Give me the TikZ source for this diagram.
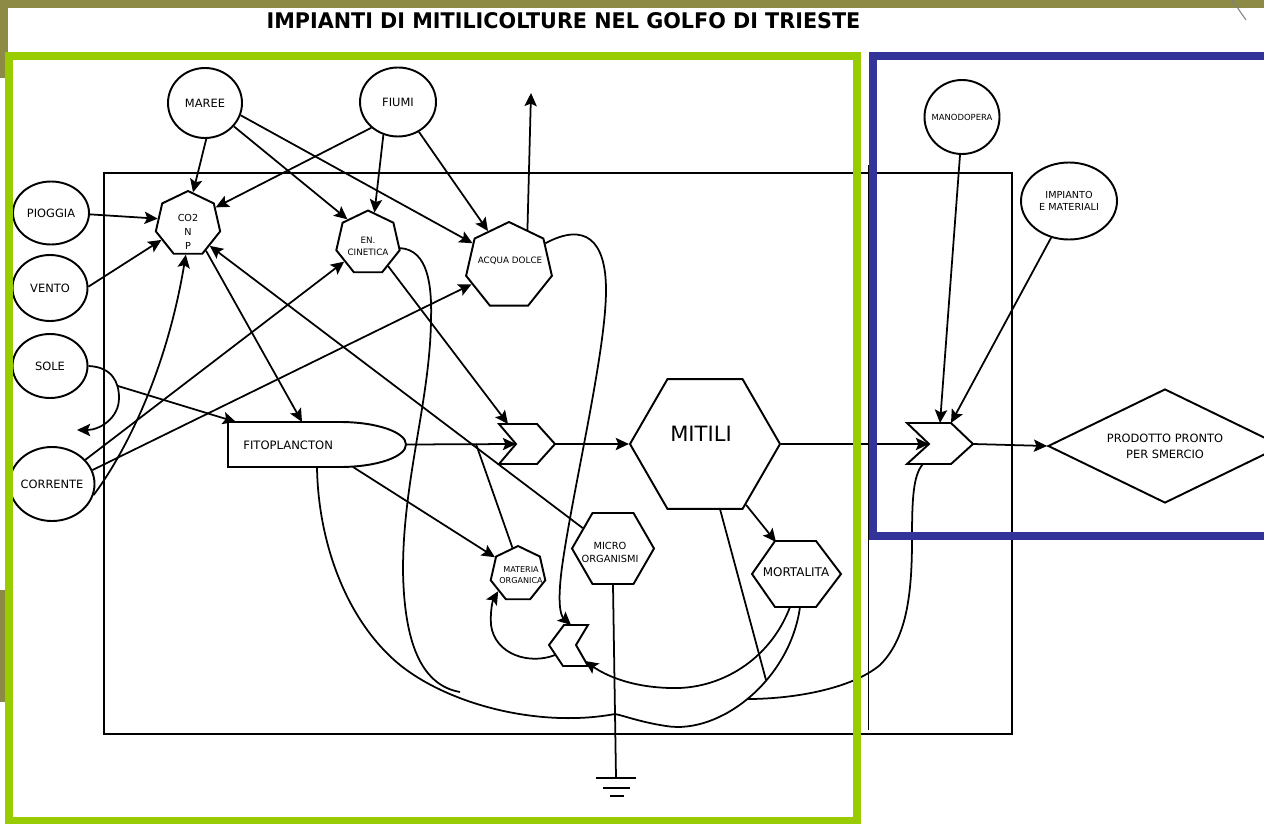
\documentclass[tikz,border=0pt]{standalone}
\usepackage{fontspec}
\usepackage{graphicx}
\setmainfont{DejaVu Sans}
\newfontfamily\titlefont{DejaVu Sans}
\usetikzlibrary{shapes.geometric,arrows.meta,calc}
\definecolor{olivebar}{RGB}{140,138,69}
\definecolor{greenbar}{RGB}{153,204,0}
\definecolor{bluebar}{RGB}{51,51,153}
\newcommand\px{0.02cm}
\tikzset{
  ln/.style={line width=1pt,draw=black},
  arr/.style={ln,-{Stealth[length=7.5pt,width=7pt,inset=1.5pt]}},
  shp/.style={draw=black,line width=1.1pt,inner sep=0pt},
  ell/.style={shp,ellipse,font=\fontsize{6.5}{8}\selectfont},
  hep/.style={shp,regular polygon,regular polygon sides=7},
  hexa/.style={shp,regular polygon,regular polygon sides=6},
  txt/.style={align=center,inner sep=0pt},
  gndbar/.style={line width=1.1pt},
}
\begin{document}
\begin{tikzpicture}[x=\px,y=-\px]
\useasboundingbox (0,0) rectangle (1264,824);
\fill[white] (0,0) rectangle (1264,824);

% inner system boundary
\draw[line width=1.2pt] (104,173) rectangle (1012,734);
\draw[ln] (868.5,165) -- (868.5,730);

% title
\node (title) at (563.5,21) {\resizebox{338pt}{9.1pt}{\titlefont\bfseries IMPIANTI DI MITILICOLTURE NEL GOLFO DI TRIESTE}};

% ellipses (sources)
\node[ell,minimum width=74*\px,minimum height=70*\px] (maree) at (205,103) {\makebox[0pt]{MAREE}};
\node[ell,minimum width=76*\px,minimum height=69*\px] (fiumi) at (398,102) {\makebox[0pt]{FIUMI}};
\node[ell,minimum width=76*\px,minimum height=63*\px] (pioggia) at (51,213) {\makebox[0pt]{PIOGGIA}};
\node[ell,minimum width=75*\px,minimum height=66*\px] (vento) at (50,288) {\makebox[0pt]{VENTO}};
\node[ell,minimum width=75*\px,minimum height=64*\px] (sole) at (50,366) {\makebox[0pt]{SOLE}};
\node[ell,minimum width=85*\px,minimum height=74*\px] (corr) at (52,484) {\makebox[0pt]{CORRENTE}};
\node[ell,minimum width=75*\px,minimum height=74*\px,font=\fontsize{4.8}{6}\selectfont] (mano) at (962,117) {\makebox[0pt]{MANODOPERA}};
\node[ell,minimum width=96*\px,minimum height=77*\px,font=\fontsize{5.5}{6.9}\selectfont,align=center] (imp) at (1069,201) {IMPIANTO\\E MATERIALI};

% heptagons
\node[hep,minimum size=66*\px] (co2) at (188,224) {};
\node[txt,font=\fontsize{5.5}{7.9}\selectfont] (co2t) at (188,232) {CO2\\N\\P};
\node[hep,minimum size=65*\px] (enc) at (368,243) {};
\node[txt,font=\fontsize{5}{6.8}\selectfont] (enct) at (368,246) {EN.\\CINETICA};
\node[hep,minimum size=88*\px] (acqua) at (509,266) {};
\node[txt,font=\fontsize{5}{6.5}\selectfont] (acquat) at (510,261) {ACQUA DOLCE};
\node[hep,minimum size=56*\px] (mat) at (518,574) {};
\node[txt,font=\fontsize{4.6}{6.2}\selectfont] (matt) at (521,575.5) {MATERIA\\ORGANICA};

% hexagons
\node[hexa,minimum size=150*\px] (mitili) at (705,444) {};
\node[txt,font=\fontsize{12}{14}\selectfont] (mitilit) at (701,433.5) {MITILI};
\node[hexa,minimum size=82*\px] (micro) at (613,548.5) {};
\node[txt,font=\fontsize{5.6}{7.4}\selectfont] (microt) at (610,552.5) {MICRO\\ORGANISMI};
\draw[shp] (752,574) -- (775,541) -- (816,541) -- (841,574) -- (816,607) -- (775,607) -- cycle;
\node[txt,font=\fontsize{6.8}{8}\selectfont] (mort) at (796,572) {MORTALITA};

% fitoplancton
\draw[shp] (228,422) -- (340,422) .. controls (376.5,422) and (406,432.1) .. (406,444.5)
  .. controls (406,456.9) and (376.5,467) .. (340,467) -- (228,467) -- cycle;
\node[txt,anchor=west,font=\fontsize{6.6}{8}\selectfont] (fito) at (243,445) {FITOPLANCTON};

% chevrons
\draw[shp] (499,424) -- (537,424) -- (555,444) -- (537,464) -- (499,464) -- (516,444) -- cycle;
\draw[shp] (907,423) -- (951,423) -- (973,444) -- (951,464) -- (907,464) -- (929,444) -- cycle;
\draw[shp] (564,625) -- (588,625) -- (576,645) -- (588,666) -- (563,666) -- (549,645) -- cycle;

% diamond
\node[shp,diamond,aspect=2,minimum width=234*\px,minimum height=114*\px,align=center,font=\fontsize{6.5}{9}\selectfont] (prod) at (1165,446) {PRODOTTO PRONTO\\PER SMERCIO};

% named points
\coordinate (evap) at (531,93);
\coordinate (solebr) at (118,386);
\coordinate (solesink) at (77,430);
\coordinate (fitoNW) at (236,422);
\coordinate (fitoN) at (302,422);
\coordinate (fitoE) at (406,444.5);
\coordinate (fitoS1) at (317,467);
\coordinate (fitoS2) at (353,467);
\coordinate (fjoin) at (476,444);
\coordinate (c1in) at (508,424);
\coordinate (c1notch) at (516,444);
\coordinate (c1tip) at (555,444);
\coordinate (c2notch) at (929,444);
\coordinate (c2tip) at (973,444);
\coordinate (c2inA) at (940,423);
\coordinate (c2inB) at (951,423);
\coordinate (c2bot) at (923,464);
\coordinate (c3top) at (571,625);
\coordinate (c3in) at (585,661);
\coordinate (c3out) at (555,655);
\coordinate (mortin) at (776,542);
\coordinate (mortB1) at (790,607);
\coordinate (mortB2) at (800,607);
\coordinate (encsink) at (460,692);
\coordinate (sinkj) at (615,714);
\coordinate (msink) at (766,680);
\coordinate (esink) at (748,699);
\coordinate (gnd) at (616,778);

% connectors
\draw[arr] (maree.-88) -- (co2.81);
\draw[arr] (maree.-39) -- (enc.131);
\draw[arr] (maree.-19) -- (acqua.148);
\draw[arr] (fiumi.-136) -- (co2.31);
\draw[arr] (fiumi.-114) -- (enc.78);
\draw[arr] (fiumi.-55) -- (acqua.121);
\draw[arr] (acqua.63) -- (evap);
\draw[arr] (pioggia.-2) -- (co2.170);
\draw[arr] (vento.2) -- (co2.211);
\draw[arr] (sole.0) .. controls (112,367) and (119,382) .. (119,398) .. controls (119,418) and (100,430) .. (solesink);
\draw[arr] (solebr) -- (fitoNW);
\draw[arr] (corr.36) -- (enc.218);
\draw[arr] (corr.19) -- (acqua.206);
\draw[arr] (corr.-15) .. controls (120,460) and (165,380) .. (co2.-94);
\draw[arr] (co2.-56) -- (fitoN);
\draw[arr] (micro.146) -- (co2.-45);
\draw[arr] (enc.-49) -- (c1in);
\draw[ln] (enc.-9) .. controls (428,250) and (432,285) .. (431,320) .. controls (430,400) and (403,480) .. (403,570) .. controls (404,640) and (420,685) .. (encsink);
\draw[arr] (acqua.32) .. controls (585,222) and (606,240) .. (606,290) .. controls (606,350) and (575,480) .. (563,560) .. controls (557,600) and (560,615) .. (c3top);
\draw[arr] (fitoE) -- (c1notch);
\draw[ln] (fjoin) -- (mat.102);
\draw[arr] (fitoS2) -- (mat.144);
\draw[ln] (fitoS1) .. controls (318,540) and (345,620) .. (400,665) .. controls (450,705) and (540,728) .. (sinkj);
\draw[arr] (c1tip) -- (mitili.west);
\draw[arr] (mitili.east) -- (c2notch);
\draw[arr] (mitili.-56) -- (mortin);
\draw[ln] (mitili.-77) -- (msink);
\draw[ln] (mortB2) .. controls (790,680) and (720,735) .. (666,726) .. controls (640,722) and (625,716) .. (sinkj);
\draw[arr] (mortB1) .. controls (770,660) and (720,690) .. (670,688) .. controls (630,687) and (605,675) .. (c3in);
\draw[arr] (c3out) .. controls (530,665) and (495,655) .. (491,625) .. controls (490,610) and (493,600) .. (mat.221);
\draw[ln] (c2bot) .. controls (913,475) and (912,500) .. (912,540) .. controls (912,600) and (905,640) .. (880,665) .. controls (850,690) and (790,699) .. (esink);
\draw[arr] (mano.-93) -- (c2inA);
\draw[arr] (imp.-116) -- (c2inB);
\draw[arr] (c2tip) -- (prod.west);
\draw[ln] (micro.south) -- (gnd);

% heat sink
\draw[gndbar] (596,778) -- (636,778);
\draw[gndbar] (603,788) -- (630,788);
\draw[gndbar] (610,796) -- (624,796);

% frames and background decoration
\fill[olivebar] (0,0) rectangle (1264,8);
\fill[olivebar] (0,0) rectangle (8,52);
\fill[olivebar] (0,52) rectangle (5,78);
\fill[olivebar] (0,590) rectangle (5,702);
\draw[gray,line width=0.6pt] (1232,0) -- (1246,20);
\draw[greenbar,line width=8*\px] (9,56) rectangle (856.5,821);
\draw[bluebar,line width=8*\px] (873,56) rectangle (1275,536);
\end{tikzpicture}
\end{document}
